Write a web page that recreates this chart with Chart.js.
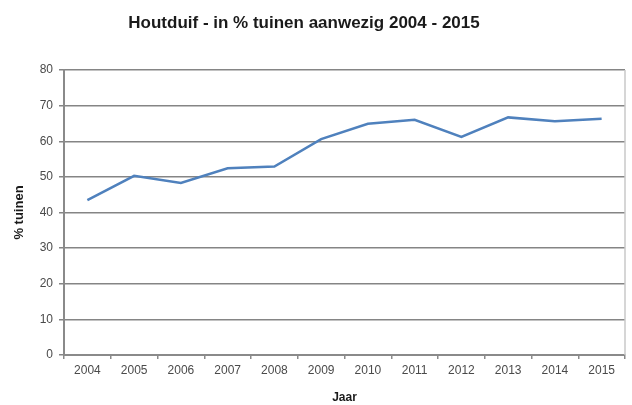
<!DOCTYPE html>
<html>
<head>
<meta charset="utf-8">
<script src="https://cdn.jsdelivr.net/npm/chart.js@4"></script>
<style>
  html, body { margin: 0; padding: 0; background: #fff; }
  #wrap { width: 632px; height: 405px; position: relative; }
</style>
</head>
<body>
<div id="wrap"><canvas id="chart" width="632" height="405"></canvas></div>
<script>
// years on the x axis
const years = ["2004", "2005", "2006", "2007", "2008", "2009", "2010", "2011", "2012", "2013", "2014", "2015"];
// % of gardens where the bird was seen
const percentGardens = [43.5, 50.3, 48.3, 52.4, 52.9, 60.6, 64.9, 66.0, 61.2, 66.7, 65.6, 66.3];

const titleText = "Houtduif - in % tuinen aanwezig 2004 - 2015";
const fontFamily = "'Liberation Sans', Arial, sans-serif";

//Draws the title (sits left of centre in the original) and the right frame line
const extras = {
    id: "extras",
    beforeDraw(chart) {
        const ctx = chart.ctx;
        ctx.save();
        ctx.fillStyle = "#1a1a1a";
        ctx.font = "bold 17px " + fontFamily;
        ctx.textAlign = "center";
        ctx.textBaseline = "middle";
        ctx.fillText(titleText, 304, 23);
        ctx.restore();
    },
    afterDraw(chart) {
        const a = chart.chartArea;
        const ctx = chart.ctx;
        ctx.save();
        ctx.strokeStyle = "#c8c8c8";
        ctx.lineWidth = 1.5;
        ctx.beginPath();
        ctx.moveTo(a.right, a.top);
        ctx.lineTo(a.right, a.bottom);
        ctx.stroke();
        ctx.restore();
    }
};

new Chart(document.getElementById("chart"), {
    type: "line",
    plugins: [extras],
    data: {
        labels: years,
        datasets: [{
            data: percentGardens,
            borderColor: "#4f81bd",
            borderWidth: 2.5,
            pointRadius: 0,
            tension: 0,
            fill: false
        }]
    },
    options: {
        responsive: false,
        animation: false,
        layout: { padding: { top: 70, right: 7, left: 0, bottom: 0 } },
        plugins: {
            legend: { display: false },
            tooltip: { enabled: false },
            title: { display: false }
        },
        scales: {
            x: {
                offset: true,
                afterFit: (s) => { s.height = 50; },
                grid: {
                    offset: true,
                    drawOnChartArea: false,
                    tickLength: 4,
                    color: "#8a8a8a",
                    lineWidth: 1.5
                },
                border: { color: "#8a8a8a", width: 2 },
                ticks: {
                    color: "#4a4a4a",
                    font: { family: fontFamily, size: 12 },
                    padding: 4,
                    maxRotation: 0
                },
                title: {
                    display: true,
                    text: "Jaar",
                    color: "#1a1a1a",
                    font: { family: fontFamily, size: 12, weight: "bold" },
                    padding: { top: 6, bottom: 0 }
                }
            },
            y: {
                min: 0,
                max: 80,
                afterFit: (s) => { s.width = 64; },
                grid: {
                    color: "#858585",
                    lineWidth: 1.5,
                    tickLength: 5
                },
                border: { color: "#8a8a8a", width: 2 },
                ticks: {
                    stepSize: 10,
                    color: "#4a4a4a",
                    font: { family: fontFamily, size: 12 },
                    padding: 6
                },
                title: {
                    display: true,
                    text: "% tuinen",
                    color: "#1a1a1a",
                    font: { family: fontFamily, size: 13, weight: "bold" },
                    padding: { top: 12, bottom: 0 }
                }
            }
        }
    }
});
</script>
</body>
</html>
